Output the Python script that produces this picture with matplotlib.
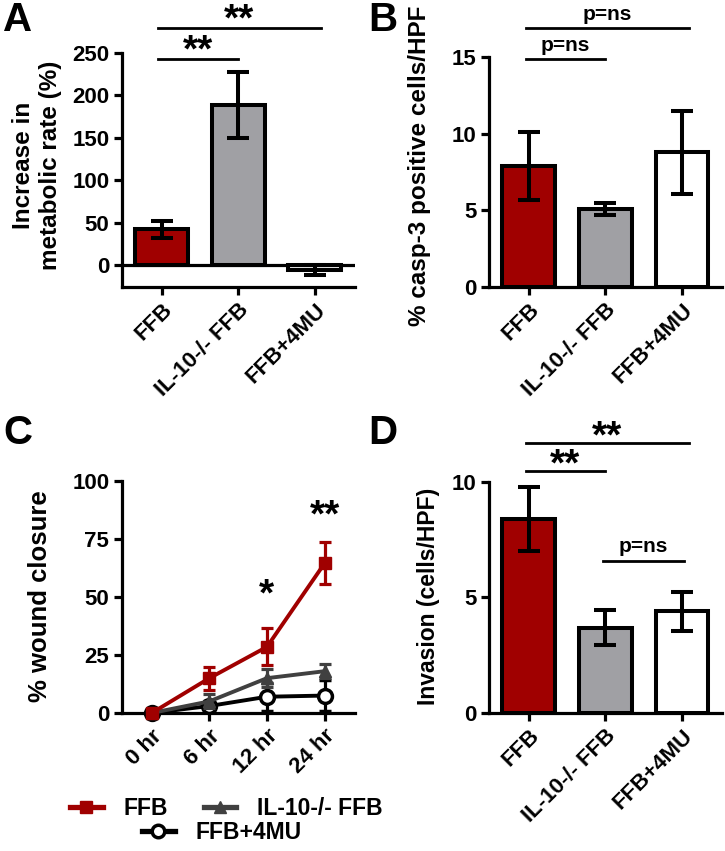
import numpy as np
import matplotlib
matplotlib.use('Agg')
import matplotlib.pyplot as plt
from matplotlib.lines import Line2D

plt.rcParams['font.family'] = ['Liberation Sans', 'DejaVu Sans']
plt.rcParams['font.weight'] = 'bold'
plt.rcParams['axes.labelweight'] = 'bold'

######################## Data ############################
groups = ['FFB', 'IL-10-/- FFB', 'FFB+4MU']
bar_colors = ['#a00000', '#a0a0a4', '#ffffff']

metab_mean = [42, 189, -6]
metab_err = [10, 39, 6]

casp_mean = [7.9, 5.1, 8.8]
casp_err = [2.2, 0.4, 2.7]

inv_mean = [8.4, 3.7, 4.4]
inv_err = [1.4, 0.75, 0.85]

times = ['0 hr', '6 hr', '12 hr', '24 hr']
wound_ffb = [0, 15, 28.5, 64.5]
wound_ffb_err = [0, 5, 8, 9]
wound_il10 = [0, 5, 15, 18]
wound_il10_err = [0, 3, 4, 3]
wound_4mu = [0, 3, 7, 7.5]
wound_4mu_err = [0, 2, 6, 6.5]

LW = 2.3
FS = 16
STAR = 28

def style_axes(ax):
    for s in ['top', 'right']:
        ax.spines[s].set_visible(False)
    for s in ['left', 'bottom']:
        ax.spines[s].set_linewidth(LW)
    ax.tick_params(width=LW, length=6, labelsize=FS, pad=3)

def bar_panel(ax, mean, err):
    x = np.arange(len(groups))
    ax.bar(x, mean, width=0.69, color=bar_colors, edgecolor='black',
           linewidth=LW + 0.6, zorder=2)
    ax.errorbar(x, mean, yerr=err, fmt='none', ecolor='black',
                elinewidth=LW + 0.6, capsize=8, capthick=LW + 0.6, zorder=3)
    ax.set_xlim(-0.52, 2.52)
    ax.set_xticks(x)
    ax.set_xticklabels(groups, rotation=45, ha='right', rotation_mode='anchor',
                       fontsize=16.5)
    style_axes(ax)

def sig(ax, x0, x1, y, txt, dy, size):
    ax.plot([x0, x1], [y, y], color='black', lw=2, clip_on=False)
    ax.text((x0 + x1) / 2, y + dy, txt, ha='center', va='bottom',
            fontsize=size, fontweight='bold', clip_on=False)

fig = plt.figure(figsize=(7.25, 8.51), dpi=100)

axA = fig.add_axes([0.168, 0.6628, 0.321, 0.275])
axB = fig.add_axes([0.6745, 0.6628, 0.321, 0.270])
axC = fig.add_axes([0.168, 0.1622, 0.321, 0.2726])
axD = fig.add_axes([0.6745, 0.1622, 0.321, 0.2714])

# A
bar_panel(axA, metab_mean, metab_err)
axA.axhline(0, color='black', lw=LW, zorder=4)
axA.set_ylim(-26, 250)
axA.set_yticks([0, 50, 100, 150, 200, 250])
axA.set_ylabel('Increase in\nmetabolic rate (%)', fontsize=17.5, linespacing=1.25)
axA.yaxis.set_label_coords(-0.255, 0.52)
sig(axA, -0.05, 1.0, 243, '**', -12, STAR)
sig(axA, -0.05, 2.08, 279.5, '**', -12, STAR)

# B
bar_panel(axB, casp_mean, casp_err)
axB.set_ylim(0, 15)
axB.set_yticks([0, 5, 10, 15])
axB.set_ylabel('% casp-3 positive cells/HPF', fontsize=17.5)
axB.yaxis.set_label_coords(-0.249, 0.526)
sig(axB, -0.04, 0.99, 14.87, 'p=ns', 0.25, 15)
sig(axB, -0.04, 2.09, 16.9, 'p=ns', 0.25, 15)

# D
bar_panel(axD, inv_mean, inv_err)
axD.set_ylim(0, 10)
axD.set_yticks([0, 5, 10])
axD.set_ylabel('Invasion (cells/HPF)', fontsize=16.5)
axD.yaxis.set_label_coords(-0.21, 0.504)
sig(axD, -0.04, 0.99, 10.48, '**', -0.55, STAR)
sig(axD, -0.04, 2.09, 11.69, '**', -0.55, STAR)
sig(axD, 0.97, 2.03, 6.58, 'p=ns', 0.2, 15)

# C
xt = np.arange(len(times))
axC.errorbar(xt, wound_4mu, yerr=wound_4mu_err, color='black', lw=LW + 0.5,
             marker='o', ms=10, mfc='white', mec='black', mew=2.5,
             capsize=4, capthick=LW, elinewidth=LW, clip_on=False, zorder=3,
             label='FFB+4MU')
axC.errorbar(xt, wound_il10, yerr=wound_il10_err, color='#404040', lw=LW + 0.5,
             marker='^', ms=8, capsize=4, capthick=LW, elinewidth=LW,
             clip_on=False, zorder=4, label='IL-10-/- FFB')
axC.errorbar(xt, wound_ffb, yerr=wound_ffb_err, color='#a00000', lw=LW + 0.5,
             marker='s', ms=8, capsize=4, capthick=LW, elinewidth=LW,
             clip_on=False, zorder=5, label='FFB')
axC.set_xlim(-0.52, 3.52)
axC.set_ylim(0, 100)
axC.set_yticks([0, 25, 50, 75, 100])
axC.set_xticks(xt)
axC.set_xticklabels(times, rotation=45, ha='right', rotation_mode='anchor',
                    fontsize=16.5)
axC.set_ylabel('% wound closure', fontsize=18.5)
style_axes(axC)
axC.yaxis.set_label_coords(-0.30, 0.504)
axC.text(2, 43, '*', ha='center', va='bottom', fontsize=STAR, fontweight='bold')
axC.text(3, 77, '**', ha='center', va='bottom', fontsize=STAR, fontweight='bold')

h_ffb = Line2D([], [], color='#a00000', lw=LW + 1.5, marker='s', ms=8)
h_il = Line2D([], [], color='#404040', lw=LW + 1.5, marker='^', ms=8)
h_4mu = Line2D([], [], color='black', lw=LW + 1.5, marker='o', ms=9,
               mfc='white', mec='black', mew=2.5)
leg1 = axC.legend([h_ffb, h_il], ['FFB', 'IL-10-/- FFB'], ncol=2,
                  loc='center', bbox_to_anchor=(0.45, -0.41), frameon=False,
                  fontsize=16.5, handlelength=1.4, handletextpad=0.9,
                  columnspacing=1.6, borderaxespad=0)
axC.add_artist(leg1)
axC.legend([h_4mu], ['FFB+4MU'], loc='center', bbox_to_anchor=(0.43, -0.515),
           frameon=False, fontsize=16.5, handlelength=1.4, handletextpad=0.9,
           borderaxespad=0)

# panel letters
for x, y, s in [(0.004, 0.976, 'A'), (0.508, 0.976, 'B'),
                (0.004, 0.491, 'C'), (0.508, 0.491, 'D')]:
    fig.text(x, y, s, fontsize=29, fontweight='bold', va='center', ha='left')

fig.savefig('out.png', dpi=100)
